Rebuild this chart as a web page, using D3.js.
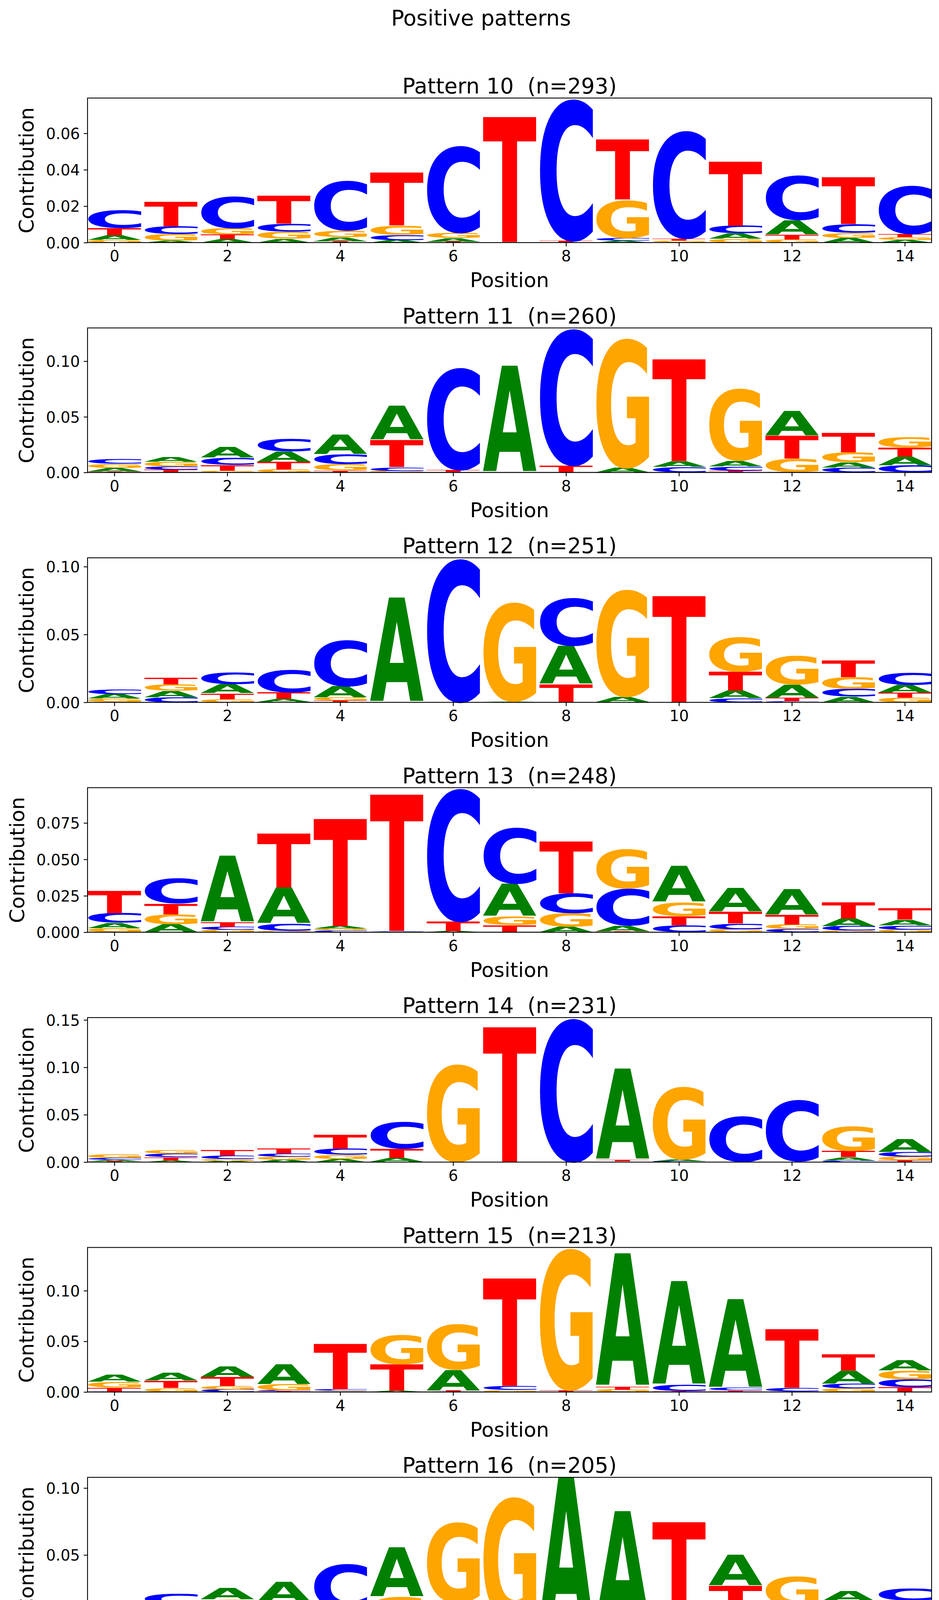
<!DOCTYPE html>
<html>
<head>
<meta charset="utf-8">
<script src="https://cdn.jsdelivr.net/npm/d3@7"></script>
<style>
  body { margin: 0; background: #ffffff; }
  svg text { font-family: "DejaVu Sans", sans-serif; }
</style>
</head>
<body>
<svg id="chart" width="2403" height="6070"></svg>
<script>
// ---------------- DATA ----------------
const figureTitle = "Positive patterns";
const patternIds = [10, 11, 12, 13, 14, 15, 16, 17, 18, 19];
const patternCounts = [293, 260, 251, 248, 231, 213, 205, 193, 162, 141];
const bases = ["A", "C", "G", "T"];
const baseColors = ["#008000", "#0000ff", "#ffa500", "#ff0000"];
const positions = [0, 1, 2, 3, 4, 5, 6, 7, 8, 9, 10, 11, 12, 13, 14];
const xTicks = [0, 2, 4, 6, 8, 10, 12, 14];
const yTickSets = [
  [0, 0.02, 0.04, 0.06],
  [0, 0.05, 0.10],
  [0, 0.05, 0.10],
  [0, 0.025, 0.050, 0.075],
  [0, 0.05, 0.10, 0.15],
  [0, 0.05, 0.10],
  [0, 0.05, 0.10],
  [0, 0.05, 0.10],
  [0, 0.02, 0.04, 0.06],
  [0, 0.05, 0.10]
];
const yTickDecimals = [2, 2, 2, 3, 2, 2, 2, 2, 2, 2];

// contribution per position (0..14) for each base
const P10_A = [.0025,.001,.002,.002,.0023,.0013,.002,.0003,.0002,.001,.0002,.003,.008,.0025,.0014];
const P10_C = [.010,.0043,.0176,.0043,.0276,.003,.0482,0,.0785,.0015,.0596,.0043,.0248,.005,.0268];
const P10_G = [.0015,.0037,.0035,.004,.0035,.0052,.0028,0,0,.021,.0008,.002,.0017,.0027,.0015];
const P10_T = [.004,.0136,.0025,.0155,.0007,.0294,.0005,.0697,.0007,.0333,.0012,.0357,.0026,.0261,.0016];

const P11_A = [.0032,.0043,.0099,.0094,.0177,.0306,0,.0961,0,.0041,.0052,.0052,.022,.0047,.0078];
const P11_C = [.0043,.0028,.0065,.0112,.009,.0035,.0926,0,.1236,0,.0048,.0039,.0005,.0044,.0065];
const P11_G = [.0039,.0041,.0016,.0026,.0056,.0013,.0004,0,0,.1173,.0002,.065,.012,.009,.0094];
const P11_T = [.0009,.0026,.0052,.007,.0018,.0243,.0018,0,.0063,0,.0928,.0016,.0207,.0174,.0082];

const P12_A = [.0032,.0047,.0067,.0024,.0082,.0773,0,.0005,.0282,.0038,0,.0055,.0096,.0041,.0057];
const P12_C = [.0034,.0038,.0086,.0166,.0345,0,.1065,0,.0354,.0003,0,.0032,.0009,.0059,.0091];
const P12_G = [.0026,.0048,.0024,.0002,.0021,0,0,.0735,0,.0796,0,.0256,.0213,.0084,.0034];
const P12_T = [.0002,.0049,.0043,.0048,.0014,0,0,.0002,.0134,0,.0794,.0141,.0025,.0124,.0036];

const P13_A = [.0036,.0055,.0457,.0247,.0018,.0004,.0006,.0223,.0037,.004,.0247,.0162,.0176,.0051,.004];
const P13_C = [.0067,.0173,.002,.0051,.0011,.0005,.0919,.0388,.0138,.0256,.0046,.004,.0022,.0031,.0029];
const P13_G = [.0028,.0068,.0017,.0008,.0013,0,0,.0061,.0093,.0274,.0095,.002,.0031,.0011,.0017];
const P13_T = [.0155,.0074,.0031,.0376,.0746,.0949,.0067,.0049,.036,.0006,.0065,.0082,.0066,.0113,.0077];

const P14_A = [.0016,.0018,.0014,.0025,.0034,.0041,.0003,0,0,.0963,.0019,0,.0002,.0034,.0137];
const P14_C = [.002,.0038,.0036,.0034,.0064,.0285,0,0,.1525,.0007,.0008,.0484,.0654,.0018,.0048];
const P14_G = [.0037,.0041,.002,.0032,.0042,.0005,.1037,0,0,0,.0769,0,0,.0262,.0038];
const P14_T = [.0008,.0034,.0058,.0051,.0151,.0096,0,.1443,0,.0018,0,0,.0005,.0064,.0021];

const P15_A = [.0069,.0077,.0106,.0196,.0006,.001,.0205,.0002,0,.1316,.1027,.0878,0,.0128,.0103];
const P15_C = [.0003,.0002,.0023,.0009,.0017,0,.0006,.0042,0,0,.006,.0023,.0038,.0047,.0077];
const P15_G = [.0059,.0037,.0035,.006,.0007,.0292,.0456,.0017,.1408,.0023,0,0,.0004,.0036,.0086];
const P15_T = [.0041,.0073,.009,.0008,.0455,.0263,.0007,.1075,.0019,.0032,.001,.0017,.0585,.0162,.0049];

const P16_A = [.0042,.0044,.0085,.015,.0005,.0371,0,0,.108,.0829,.0039,.0231,.0069,.0075,.0055];
const P16_C = [.0055,.0077,.0062,.0037,.0341,.0027,.0133,0,0,0,0,.0015,.0039,.0044,.0092];
const P16_G = [.0036,.0034,.0066,.0048,.0017,.0161,.0607,.094,0,0,.0049,.0056,.0219,.0071,.004];
const P16_T = [.0027,.0055,.004,.0065,.0074,0,.001,0,0,0,.0666,.0201,.0015,.0039,.0063];

const P17_A = [.003,.0052,.0069,.0093,.0147,.001,0,.0222,.0012,.0021,0,0,.0604,.0005,.0088];
const P17_C = [.0012,.0023,.0036,.0027,.0017,.0029,.0164,0,.0984,0,0,0,.0018,.0228,.003];
const P17_G = [.0024,.0024,.0075,.0128,.0069,0,.0467,.0475,.0015,.1268,0,.1103,.0067,0,.0137];
const P17_T = [.0018,.0039,.0058,.004,.0018,.0521,0,.0127,.005,.0006,.1351,0,.0079,.0195,.0114];

const P18_A = [.02,.0137,.0013,.0013,.0015,.0011,.0138,.0174,.0003,.0707,.0541,.016,.0026,.0051,.0032];
const P18_C = [.0031,.0036,.0015,.0153,.0643,.0286,.0086,.0023,.0009,0,.0005,.001,.0015,.0023,.0056];
const P18_G = [.0041,.0018,0,.0006,.0005,.0032,.0065,.0191,.0543,0,.0006,.0012,.0017,.0026,.0034];
const P18_T = [.0078,.0274,.0689,.055,.0023,.0176,.0062,.0052,0,.0005,.0017,.0182,.0172,.0092,.0081];

const P19_A = [.0038,.0018,.0053,.0039,.007,.0041,0,.0003,0,.0849,0,.1162,0,.0073,.0086];
const P19_C = [.0024,.005,.0015,.0055,.005,.0278,0,.0079,.0933,0,.0003,0,.0851,0,.0087];
const P19_G = [.0039,.004,.0012,.0065,.0035,.0027,.072,.0409,0,0,.1105,0,0,.0247,.007];
const P19_T = [.0022,.0033,.0035,.0023,.0161,.0035,.0012,0,0,0,.0011,0,.0023,.0027,.0032];

const patternMatrices = [
  [P10_A, P10_C, P10_G, P10_T],
  [P11_A, P11_C, P11_G, P11_T],
  [P12_A, P12_C, P12_G, P12_T],
  [P13_A, P13_C, P13_G, P13_T],
  [P14_A, P14_C, P14_G, P14_T],
  [P15_A, P15_C, P15_G, P15_T],
  [P16_A, P16_C, P16_G, P16_T],
  [P17_A, P17_C, P17_G, P17_T],
  [P18_A, P18_C, P18_G, P18_T],
  [P19_A, P19_C, P19_G, P19_T]
];

// ---------------- LAYOUT ----------------
const W = 2403, H = 6070;
const axLeft = 224, axRight = 2384;
const firstTop = 251, panelStep = 588.5, axHeight = 370;
const letterWidth = 0.95;
const tickFont = 39, labelFont = 52, titleFont = 55, supFont = 55;
const tickLen = 9.7, tickPad = 9.7, spineW = 2.2;

const svg = d3.select("#chart");
svg.append("rect").attr("width", W).attr("height", H).attr("fill", "#ffffff");

// glyph ink metrics
const FS = 100;
const ctx = document.createElement("canvas").getContext("2d");
ctx.font = `bold ${FS}px "DejaVu Sans"`;
const fallback = { A: [0.0, 0.774, 0.729, 0], C: [-0.05, 0.66, 0.742, 0.014], G: [-0.05, 0.74, 0.742, 0.014], T: [0.0, 0.68, 0.729, 0] };
const glyph = {};
bases.forEach(b => {
  const m = ctx.measureText(b);
  if (m.actualBoundingBoxAscent !== undefined && (m.actualBoundingBoxAscent + m.actualBoundingBoxDescent) > 0) {
    glyph[b] = { l: m.actualBoundingBoxLeft, r: m.actualBoundingBoxRight, a: m.actualBoundingBoxAscent, d: m.actualBoundingBoxDescent };
  } else {
    const f = fallback[b];
    glyph[b] = { l: -f[0] * FS, r: f[1] * FS, a: f[2] * FS, d: f[3] * FS };
  }
});

svg.append("text")
  .attr("x", 1231).attr("y", 65)
  .attr("text-anchor", "middle")
  .attr("font-size", supFont)
  .attr("fill", "#000")
  .text(figureTitle);

patternIds.forEach((pid, pi) => {
  const top = firstTop + pi * panelStep;
  const bottom = top + axHeight;
  const mats = patternMatrices[pi];
  const sums = positions.map(p => d3.sum(mats, arr => arr[p]));
  const ymax = d3.max(sums);

  const x = d3.scaleLinear().domain([-letterWidth / 2, 14 + letterWidth / 2]).range([axLeft, axRight]);
  const y = d3.scaleLinear().domain([0, ymax]).range([bottom, top]);

  const g = svg.append("g").attr("class", "panel");

  // letters (logo glyphs stretched into their stacked boxes)
  const lg = g.append("g").attr("class", "logo");
  positions.forEach(p => {
    const items = bases.map((b, bi) => ({ b, bi, v: mats[bi][p] }))
      .filter(d => d.v > 0)
      .sort((a, c) => a.v - c.v);
    let acc = 0;
    items.forEach(d => {
      const y0 = acc, y1 = acc + d.v;
      acc = y1;
      const X0 = x(p - letterWidth / 2), X1 = x(p + letterWidth / 2);
      const Yt = y(y1), Yb = y(y0);
      const gm = glyph[d.b];
      const sx = (X1 - X0) / (gm.l + gm.r);
      const sy = (Yb - Yt) / (gm.a + gm.d);
      lg.append("text")
        .attr("font-size", FS)
        .attr("font-weight", "bold")
        .attr("fill", baseColors[d.bi])
        .attr("transform", `translate(${X0},${Yt}) scale(${sx},${sy}) translate(${gm.l},${gm.a})`)
        .text(d.b);
    });
  });

  // baseline
  g.append("line").attr("x1", axLeft).attr("x2", axRight).attr("y1", y(0)).attr("y2", y(0))
    .attr("stroke", "#000").attr("stroke-width", 1.6);

  // spines
  g.append("rect").attr("x", axLeft).attr("y", top).attr("width", axRight - axLeft).attr("height", axHeight)
    .attr("fill", "none").attr("stroke", "#000").attr("stroke-width", spineW);

  // y axis
  const fmt = d3.format(`.${yTickDecimals[pi]}f`);
  const yAxisG = g.append("g").attr("transform", `translate(${axLeft},0)`)
    .call(d3.axisLeft(y).tickValues(yTickSets[pi]).tickFormat(fmt).tickSize(tickLen).tickPadding(tickPad));
  yAxisG.select(".domain").remove();
  yAxisG.attr("font-size", tickFont).attr("font-family", "DejaVu Sans");
  yAxisG.selectAll(".tick line").attr("stroke-width", spineW);
  yAxisG.selectAll(".tick text").attr("dy", "0.36em").attr("fill", "#000");

  // x axis
  const xAxisG = g.append("g").attr("transform", `translate(0,${bottom})`)
    .call(d3.axisBottom(x).tickValues(xTicks).tickFormat(d3.format("d")).tickSize(tickLen).tickPadding(11));
  xAxisG.select(".domain").remove();
  xAxisG.attr("font-size", tickFont).attr("font-family", "DejaVu Sans");
  xAxisG.selectAll(".tick line").attr("stroke-width", spineW);
  xAxisG.selectAll(".tick text").attr("fill", "#000");

  // y label positioned from widest tick label
  let maxW = 0;
  yAxisG.selectAll(".tick text").each(function () { maxW = Math.max(maxW, this.getComputedTextLength()); });
  const labelRight = axLeft - tickLen - tickPad - maxW;
  const yl = labelRight - 11 - 0.236 * labelFont - 8;
  g.append("text")
    .attr("transform", `translate(${yl},${(top + bottom) / 2}) rotate(-90)`)
    .attr("text-anchor", "middle")
    .attr("font-size", labelFont)
    .attr("fill", "#000")
    .text("Contribution");

  // x label
  g.append("text")
    .attr("x", (axLeft + axRight) / 2).attr("y", bottom + 114)
    .attr("text-anchor", "middle")
    .attr("font-size", labelFont)
    .attr("fill", "#000")
    .text("Position");

  // title
  g.append("text")
    .attr("x", (axLeft + axRight) / 2).attr("y", top - 12)
    .attr("text-anchor", "middle")
    .attr("font-size", titleFont)
    .attr("fill", "#000")
    .style("white-space", "pre")
    .attr("xml:space", "preserve")
    .text(`Pattern ${pid}  (n=${patternCounts[pi]})`);
});
</script>
</body>
</html>
